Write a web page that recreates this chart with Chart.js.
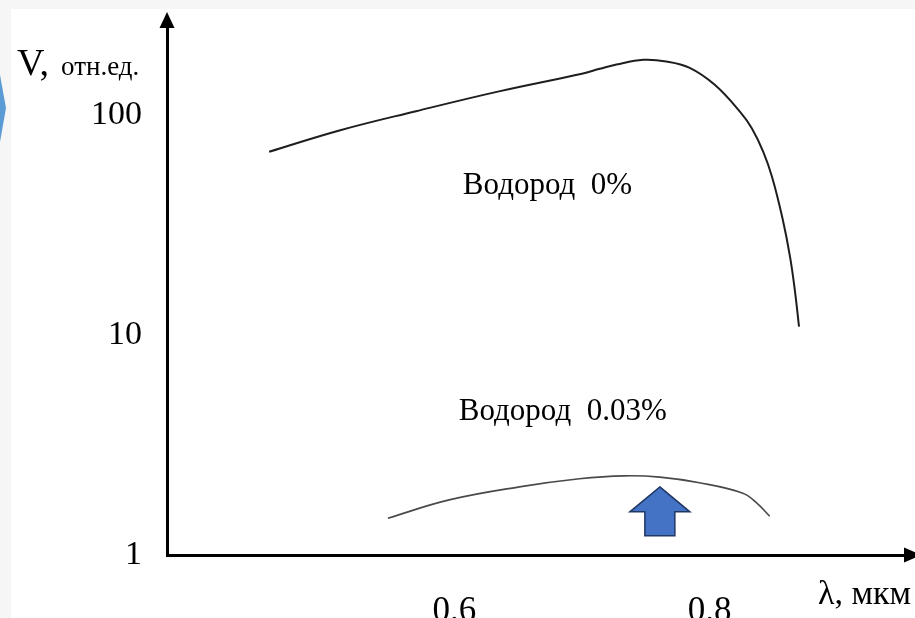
<!DOCTYPE html>
<html>
<head>
<meta charset="utf-8">
<style>
  html, body { margin: 0; padding: 0; background: #ffffff; }
  canvas { display: block; }
</style>
<script src="https://cdn.jsdelivr.net/npm/chart.js@4/dist/chart.umd.min.js"></script>
</head>
<body>
<canvas id="c" width="915" height="618"></canvas>
<script>
// Wavelength, µm
const lambda0 = [0.455, 0.510, 0.570, 0.635, 0.700, 0.714, 0.727, 0.748, 0.766, 0.784, 0.804, 0.824, 0.833, 0.842, 0.849, 0.857, 0.863, 0.867, 0.870];
// Signal, rel. units — hydrogen 0%
const signal0 = [68, 85, 104, 128, 154, 162, 169.5, 178, 175, 164, 137, 103, 87, 68, 52, 34, 22.6, 15.5, 10.9];

const lambda003 = [0.548, 0.596, 0.651, 0.698, 0.733, 0.761, 0.792, 0.826, 0.837, 0.847];
// Signal, rel. units — hydrogen 0.03%
const signal003 = [1.47, 1.78, 2.04, 2.22, 2.29, 2.26, 2.13, 1.91, 1.72, 1.50];

const xTicks = [0.6, 0.8];
const yTicks = [1, 10, 100];

const curveNames = ['Водород  0%', 'Водород  0.03%'];
const curveLabelAt = [[0.673, 47.7], [0.685, 4.47]];
const markerAt = [0.761, 2.04];

const SERIF = '"Liberation Serif", "Times New Roman", serif';

const decor = {
  id: 'decor',
  beforeDraw(chart) {
    const ctx = chart.ctx;
    ctx.save();
    ctx.fillStyle = '#ffffff';
    ctx.fillRect(0, 0, chart.width, chart.height);
    ctx.fillStyle = '#f6f6f6';
    ctx.fillRect(0, 0, chart.width, 9);
    ctx.fillRect(0, 0, 11, chart.height);
    ctx.fillStyle = '#5b9bd5';
    ctx.beginPath();
    ctx.moveTo(0, 75);
    ctx.lineTo(6, 108);
    ctx.lineTo(0, 142);
    ctx.closePath();
    ctx.fill();
    ctx.restore();
  },
  afterDraw(chart) {
    const ctx = chart.ctx;
    const a = chart.chartArea;
    const xs = chart.scales.x, ys = chart.scales.y;
    ctx.save();
    // axis arrowheads
    ctx.fillStyle = '#000';
    const ax = a.left;
    ctx.beginPath();
    ctx.moveTo(ax, a.top - 15);
    ctx.lineTo(ax - 7.5, a.top + 1);
    ctx.lineTo(ax + 7.5, a.top + 1);
    ctx.closePath();
    ctx.fill();
    const ay = a.bottom;
    ctx.beginPath();
    ctx.moveTo(a.right + 16, ay);
    ctx.lineTo(a.right - 1, ay - 7.5);
    ctx.lineTo(a.right - 1, ay + 7.5);
    ctx.closePath();
    ctx.fill();

    // axis titles
    ctx.fillStyle = '#000';
    ctx.textBaseline = 'alphabetic';
    ctx.textAlign = 'left';
    ctx.font = '38px ' + SERIF;
    ctx.fillText('V,', 17, 75);
    ctx.font = '27px ' + SERIF;
    ctx.fillText('отн.ед.', 61, 75);
    ctx.font = '34px ' + SERIF;
    ctx.fillText('λ, мкм', 818, 604);

    // curve captions
    ctx.font = '31px ' + SERIF;
    ctx.textAlign = 'center';
    ctx.textBaseline = 'middle';
    curveNames.forEach((t, i) => {
      ctx.fillText(t, xs.getPixelForValue(curveLabelAt[i][0]), ys.getPixelForValue(curveLabelAt[i][1]));
    });

    // up arrow marker under the lower curve peak
    const tx = xs.getPixelForValue(markerAt[0]);
    const ty = ys.getPixelForValue(markerAt[1]);
    ctx.beginPath();
    ctx.moveTo(tx, ty);
    ctx.lineTo(tx + 30, ty + 25);
    ctx.lineTo(tx + 15, ty + 25);
    ctx.lineTo(tx + 15, ty + 49);
    ctx.lineTo(tx - 15, ty + 49);
    ctx.lineTo(tx - 15, ty + 25);
    ctx.lineTo(tx - 30, ty + 25);
    ctx.closePath();
    ctx.fillStyle = '#4472c4';
    ctx.fill();
    ctx.lineWidth = 1.5;
    ctx.strokeStyle = '#203864';
    ctx.stroke();
    ctx.restore();
  }
};

new Chart(document.getElementById('c'), {
  type: 'line',
  data: {
    datasets: [
      {
        label: curveNames[0],
        data: lambda0.map((x, i) => ({ x, y: signal0[i] })),
        borderColor: '#1e1e1e',
        borderWidth: 2,
        pointRadius: 0,
        tension: 0.4,
        fill: false
      },
      {
        label: curveNames[1],
        data: lambda003.map((x, i) => ({ x, y: signal003[i] })),
        borderColor: '#4a4a4a',
        borderWidth: 1.6,
        pointRadius: 0,
        tension: 0.4,
        fill: false
      }
    ]
  },
  options: {
    responsive: false,
    animation: false,
    events: [],
    layout: { padding: { top: 27, right: 10, left: 0, bottom: 0 } },
    plugins: {
      legend: { display: false },
      title: { display: false },
      tooltip: { enabled: false }
    },
    scales: {
      x: {
        type: 'linear',
        min: 0.375,
        max: 0.953,
        afterFit(s) { s.height = 63; s.paddingLeft = 0; s.paddingRight = 0; },
        afterBuildTicks(s) { s.ticks = xTicks.map(v => ({ value: v })); },
        grid: { display: false, drawTicks: false },
        border: { display: true, color: '#000', width: 3 },
        ticks: {
          color: '#000',
          font: { family: SERIF, size: 35 },
          padding: 36,
          maxRotation: 0,
          callback: v => String(v)
        }
      },
      y: {
        type: 'logarithmic',
        min: 1,
        max: 251,
        afterFit(s) { s.width = 167; s.paddingTop = 0; s.paddingBottom = 0; },
        afterBuildTicks(s) { s.ticks = yTicks.map(v => ({ value: v })); },
        grid: { display: false, drawTicks: false },
        border: { display: true, color: '#000', width: 3 },
        ticks: {
          color: '#000',
          font: { family: SERIF, size: 34 },
          padding: 25,
          callback: v => String(v)
        }
      }
    }
  },
  plugins: [decor]
});
</script>
</body>
</html>
